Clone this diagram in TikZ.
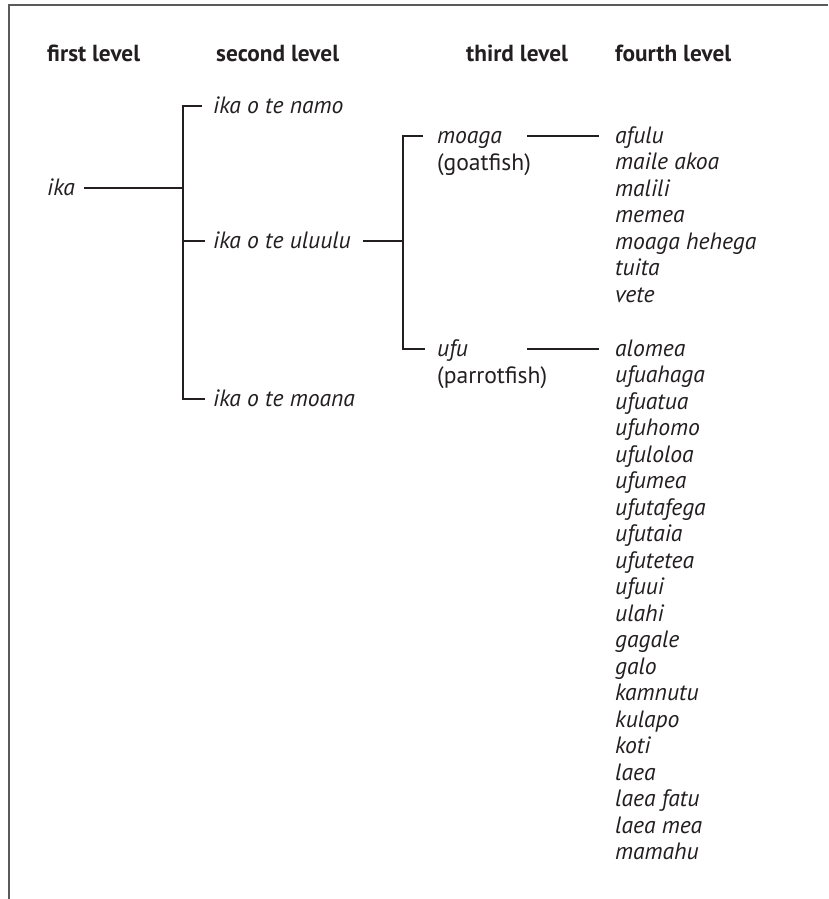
\documentclass[tikz,border=0pt]{standalone}
\usepackage{fontspec}
\setmainfont{PT Sans}
\definecolor{ink}{HTML}{231F20}
\definecolor{frame}{HTML}{5A5A5A}
\begin{document}
\begin{tikzpicture}[x=1pt,y=-1pt,
  lbl/.style={anchor=base west, inner sep=0pt, text=ink, font=\fontsize{23.6}{28}\selectfont\itshape},
  rom/.style={anchor=base west, inner sep=0pt, text=ink, font=\fontsize{23.6}{28}\selectfont},
  head/.style={anchor=base west, inner sep=0pt, text=ink, font=\fontsize{23.3}{28}\selectfont\bfseries},
  conn/.style={draw=ink, line width=1.1pt},
  border/.style={draw=frame, line width=2pt}]
\useasboundingbox (0,0) rectangle (828,899);
% frame
\coordinate (fa) at (8.5,899);
\coordinate (fb) at (8.5,5);
\coordinate (fc) at (828,5);
\draw[border] (fa) -- (fb) -- (fc);
% headings
\node[head] (h1) at (47,62) {first level};
\node[head] (h2) at (216,62) {second level};
\node[head] (h3) at (466,62) {third level};
\node[head] (h4) at (615,62) {fourth level};
% first level
\node[lbl] (ika) at (47,195) {ika};
% second level
\node[lbl] (namo) at (213,113) {ika o te namo};
\node[lbl] (uluulu) at (213,248) {ika o te uluulu};
\node[lbl] (moana) at (213,406) {ika o te moana};
% third level
\node[lbl] (moaga) at (437,143) {moaga};
\node[rom] (goat) at (437,170) {(goatfish)};
\node[lbl] (ufu) at (437,356) {ufu};
\node[rom] (parrot) at (437,383) {(parrotfish)};
% fourth level
\foreach \t [count=\i from 0] in {afulu,maile akoa,malili,memea,moaga hehega,tuita,vete}
  \node[lbl] (a\i) at (615,143+26.5*\i) {\t};
\foreach \t [count=\i from 0] in {alomea,ufuahaga,ufuatua,ufuhomo,ufuloloa,ufumea,ufutafega,ufutaia,ufutetea,ufuui,ulahi,gagale,galo,kamnutu,kulapo,koti,laea,laea fatu,laea mea,mamahu}
  \node[lbl] (b\i) at (615,356+26.5*\i) {\t};
% junctions
\coordinate (j1) at (183,188);
\coordinate (j2) at (403,241);
\coordinate (m1) at (527,136);
\coordinate (m2) at (527,349);
\coordinate (u1) at ([shift={(-8,-7)}]uluulu.base west);
% connectors
\draw[conn] ([shift={(9,-7)}]ika.base east) -- (j1);
\draw[conn] ([shift={(-11,-7)}]namo.base west) -| (j1) |- ([shift={(-8,-7)}]moana.base west);
\draw[conn] (j1 |- u1) -- (u1);
\draw[conn] ([shift={(12,-7)}]uluulu.base east) -- (j2);
\draw[conn] ([shift={(-14,-7)}]moaga.base west) -| (j2) |- ([shift={(-12,-7)}]ufu.base west);
\draw[conn] (m1) -- ([shift={(-16,-7)}]a0.base west);
\draw[conn] (m2) -- ([shift={(-16,-7)}]b0.base west);
\end{tikzpicture}
\end{document}
